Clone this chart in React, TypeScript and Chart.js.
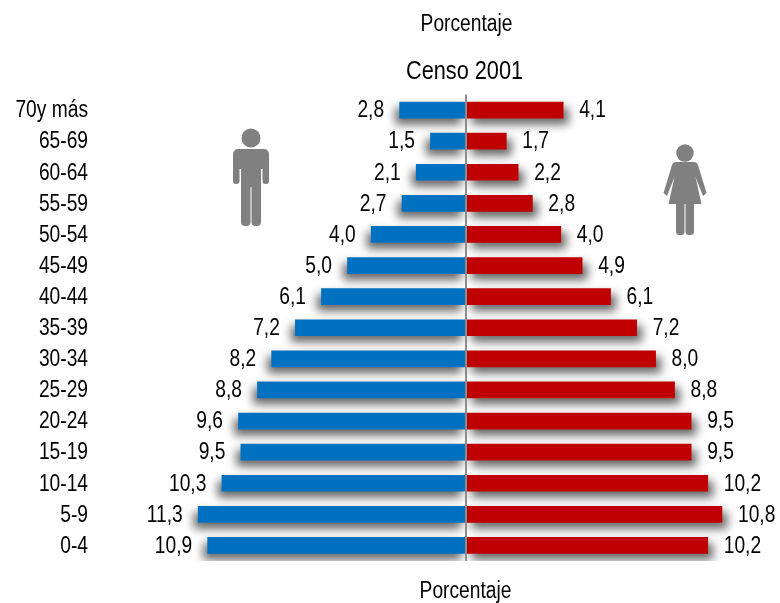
import React, { useEffect, useRef } from "react";
import { Chart, registerables } from "chart.js";

Chart.register(...registerables);

const categories = ["70y más", "65-69", "60-64", "55-59", "50-54", "45-49", "40-44", "35-39", "30-34", "25-29", "20-24", "15-19", "10-14", "5-9", "0-4"];
const hombres = [2.8, 1.5, 2.1, 2.7, 4.0, 5.0, 6.1, 7.2, 8.2, 8.8, 9.6, 9.5, 10.3, 11.3, 10.9];
const mujeres = [4.1, 1.7, 2.2, 2.8, 4.0, 4.9, 6.1, 7.2, 8.0, 8.8, 9.5, 9.5, 10.2, 10.8, 10.2];

const FONT = '"Liberation Sans", Arial, sans-serif';
const NARROW = 0.835;
const AXIS_TITLE = "Porcentaje";
const CHART_TITLE = "Censo 2001";

function drawMan(ctx: CanvasRenderingContext2D, cx: number, top: number) {
  ctx.fillStyle = "#808080";
  ctx.beginPath();
  ctx.arc(cx, top + 9, 9.5, 0, Math.PI * 2);
  ctx.fill();
  ctx.beginPath();
  ctx.roundRect(cx - 18, top + 20, 36, 20, 5);
  ctx.fill();
  ctx.beginPath();
  ctx.roundRect(cx - 18, top + 24, 6.5, 31, 3);
  ctx.roundRect(cx + 11.5, top + 24, 6.5, 31, 3);
  ctx.roundRect(cx - 10, top + 24, 20, 34, 2);
  ctx.roundRect(cx - 10, top + 40, 9.5, 57, 4);
  ctx.roundRect(cx + 0.5, top + 40, 9.5, 57, 4);
  ctx.fill();
}

function drawWoman(ctx: CanvasRenderingContext2D, cx: number, top: number) {
  ctx.fillStyle = "#808080";
  ctx.beginPath();
  ctx.arc(cx, top + 9, 8.7, 0, Math.PI * 2);
  ctx.fill();
  ctx.beginPath();
  ctx.moveTo(cx - 9, top + 18);
  ctx.lineTo(cx + 9, top + 18);
  ctx.quadraticCurveTo(cx + 12, top + 18, cx + 13, top + 21);
  ctx.lineTo(cx + 21.5, top + 49);
  ctx.lineTo(cx + 18, top + 52);
  ctx.lineTo(cx + 10.5, top + 33);
  ctx.lineTo(cx + 16.5, top + 60);
  ctx.lineTo(cx - 16.5, top + 60);
  ctx.lineTo(cx - 10.5, top + 33);
  ctx.lineTo(cx - 18, top + 52);
  ctx.lineTo(cx - 21.5, top + 49);
  ctx.lineTo(cx - 13, top + 21);
  ctx.quadraticCurveTo(cx - 12, top + 18, cx - 9, top + 18);
  ctx.closePath();
  ctx.fill();
  ctx.beginPath();
  ctx.roundRect(cx - 9, top + 56, 8.5, 35, 3.5);
  ctx.roundRect(cx + 0.5, top + 56, 8.5, 35, 3.5);
  ctx.fill();
}

const shadowPlugin = {
  id: "barShadow",
  beforeDatasetDraw(chart: any, args: any) {
    const c = chart.ctx;
    c.save();
    c.shadowColor = "rgba(0,0,0,0.6)";
    c.shadowBlur = 10;
    c.shadowOffsetX = args.index === 0 ? -4 : 5;
    c.shadowOffsetY = 6;
  },
  afterDatasetDraw(chart: any) {
    chart.ctx.restore();
  },
};

const overlayPlugin = {
  id: "overlay",
  afterDraw(chart: any) {
    const c = chart.ctx;
    const x = chart.scales.x;
    c.save();
    c.fillStyle = "#000";
    c.font = `23px ${FONT}`;
    c.textBaseline = "middle";
    chart.data.datasets.forEach((ds: any, di: number) => {
      const meta = chart.getDatasetMeta(di);
      meta.data.forEach((bar: any, i: number) => {
        const v = Math.abs(ds.data[i]);
        const label = v.toFixed(1).replace(".", ",");
        c.textAlign = di === 0 ? "right" : "left";
        c.fillText(label, x.getPixelForValue(ds.data[i]) + (di === 0 ? -15.5 : 16), bar.y);
      });
    });
    c.textAlign = "center";
    c.fillText(AXIS_TITLE, 466.5, 24);
    c.fillText(AXIS_TITLE, 465.5, 591);
    c.font = `26px ${FONT}`;
    c.fillText(CHART_TITLE, 464.5, 71);
    c.filter = "blur(0.6px)";
    drawMan(c, 251, 129);
    drawWoman(c, 685, 144);
    c.restore();
  },
};

export default function App() {
  const ref = useRef<HTMLCanvasElement | null>(null);
  useEffect(() => {
    const canvas = ref.current as HTMLCanvasElement;
    const ctx = canvas.getContext("2d") as any;
    const fill = ctx.fillText.bind(ctx);
    ctx.fillText = (t: string, px: number, py: number) => {
      ctx.save();
      ctx.translate(px, py + 1);
      ctx.scale(NARROW, 1);
      fill(t, 0, 0);
      ctx.restore();
    };
    const chart = new Chart(canvas, {
      type: "bar",
      data: {
        labels: categories,
        datasets: [
          { label: "Hombres", data: hombres.map((v) => -v), backgroundColor: "#0070C0", stack: "a", barThickness: 16, borderSkipped: false },
          { label: "Mujeres", data: mujeres, backgroundColor: "#C00000", stack: "a", barThickness: 16, borderSkipped: false },
        ],
      },
      options: {
        indexAxis: "y",
        animation: false,
        responsive: false,
        layout: { padding: { top: 94.5, right: 5.9, bottom: 42, left: 0 } },
        plugins: { legend: { display: false }, tooltip: { enabled: false }, title: { display: false } },
        scales: {
          x: {
            min: -15,
            max: 13,
            stacked: true,
            border: { display: false },
            ticks: { display: false, stepSize: 1 },
            grid: {
              z: 1,
              drawTicks: false,
              lineWidth: 2,
              color: (c: any) => (c.tick && c.tick.value === 0 ? "#8c8c8c" : "rgba(0,0,0,0)"),
            },
          },
          y: {
            stacked: true,
            border: { display: false },
            grid: { display: false, drawTicks: false },
            afterFit: (s: any) => {
              s.width = 110.5;
            },
            ticks: { color: "#000", padding: 22.5, font: { size: 23, family: FONT } },
          },
        },
      },
      plugins: [shadowPlugin, overlayPlugin],
    } as any);
    return () => chart.destroy();
  }, []);
  return (
    <div style={{ position: "absolute", left: 0, top: 0, width: 780, height: 603, background: "#fff" }}>
      <canvas ref={ref} width={780} height={603} style={{ display: "block" }} />
    </div>
  );
}
